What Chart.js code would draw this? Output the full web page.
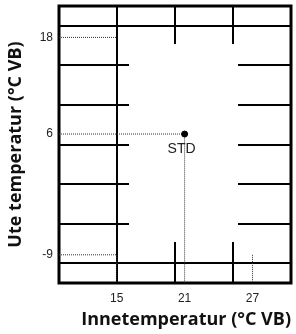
<!DOCTYPE html>
<html>
<head>
<meta charset="utf-8">
<script src="https://cdn.jsdelivr.net/npm/chart.js@4"></script>
<style>
html, body { margin: 0; padding: 0; background: #fff; }
#wrap { width: 296px; height: 334px; }
</style>
</head>
<body>
<div id="wrap"><canvas id="myChart"></canvas></div>
<script>
let xTicks = [15, 21, 27];
let yTicks = [18, 6, -9];
let xMin = 9.9, xMax = 30.4;
let yMin = -12.5, yMax = 21.9;

let pointLabels = ['STD'];
let pointX = [21];
let pointY = [6];

// dotted guide lines as [x, y] pairs
let guide18 = [[xMin, 18], [15, 18]];
let guide6 = [[xMin, 6], [21, 6], [21, yMin]];
let guideM9 = [[xMin, -9], [15, -9], [15, yMin]];
let guide27 = [[27, -9], [27, yMin]];

function toXY(arr) {
    return arr.map(p => ({x: p[0], y: p[1]}));
}

function guide(arr) {
    return {
        data: toXY(arr),
        showLine: true,
        borderColor: '#333',
        borderWidth: 1,
        borderDash: [1, 1],
        pointRadius: 0
    };
}

// the background frame of the diagram, in fractions of the plot area
let framePlugin = {
    id: 'frame',
    beforeDatasetsDraw(chart) {
        const {ctx, chartArea: a} = chart;
        const w = a.right - a.left, h = a.bottom - a.top;
        const X = f => Math.round(a.left + f * w);
        const Y = f => Math.round(a.top + f * h);
        ctx.save();
        ctx.strokeStyle = '#000';
        ctx.lineWidth = 2;
        ctx.beginPath();
        for (let k = 0; k < 7; k++) {
            const y = Y((k + 0.5) / 7);
            if (k === 0 || k === 6) {
                ctx.moveTo(a.left, y); ctx.lineTo(a.right, y);
            } else {
                ctx.moveTo(a.left, y); ctx.lineTo(X(0.3), y);
                ctx.moveTo(X(0.77), y); ctx.lineTo(a.right, y);
            }
        }
        ctx.moveTo(X(0.25), a.top); ctx.lineTo(X(0.25), a.bottom);
        [0.5, 0.75].forEach(f => {
            ctx.moveTo(X(f), a.top); ctx.lineTo(X(f), Y(0.138));
            ctx.moveTo(X(f), Y(0.852)); ctx.lineTo(X(f), a.bottom);
        });
        ctx.stroke();
        ctx.lineWidth = 3;
        ctx.strokeRect(a.left, a.top, w, h);
        ctx.restore();
    }
};

let labelPlugin = {
    id: 'pointLabels',
    afterDatasetsDraw(chart) {
        const ctx = chart.ctx;
        const meta = chart.getDatasetMeta(0);
        ctx.save();
        ctx.fillStyle = '#222';
        ctx.font = '14px "Liberation Sans", Arial, sans-serif';
        ctx.textAlign = 'center';
        ctx.textBaseline = 'middle';
        meta.data.forEach((el, i) => {
            ctx.fillText(pointLabels[i], el.x - 3, el.y + 15);
        });
        ctx.restore();
    }
};

let tickFont = {family: '"Liberation Sans", Arial, sans-serif', size: 12};
let titleFont = {family: '"Open Sans", sans-serif', size: 18, weight: 'bold'};

let myChart = document.getElementById('myChart').getContext('2d');

let chart = new Chart(myChart, {
    type: 'scatter',
    data: {
        datasets: [
            {
                data: pointX.map((x, i) => ({x: x, y: pointY[i]})),
                pointRadius: 3,
                backgroundColor: '#000',
                borderColor: '#000'
            },
            guide(guide18),
            guide(guide6),
            guide(guideM9),
            guide(guide27)
        ]
    },
    options: {
        responsive: true,
        maintainAspectRatio: false,
        animation: false,
        layout: {padding: {top: 6, right: 2, left: 0, bottom: 0}},
        plugins: {
            legend: {display: false},
            tooltip: {enabled: false}
        },
        scales: {
            x: {
                type: 'linear',
                min: xMin,
                max: xMax,
                grid: {display: false, drawTicks: false},
                border: {display: false},
                afterBuildTicks: s => { s.ticks = xTicks.map(v => ({value: v})); },
                afterFit: s => { s.height = 51; s.paddingLeft = 0; s.paddingRight = 0; },
                ticks: {padding: 8, color: '#222', font: tickFont},
                title: {
                    display: true,
                    text: 'Innetemperatur (°C VB)',
                    align: 'end',
                    color: '#111',
                    font: titleFont,
                    padding: {top: 0, bottom: 3}
                }
            },
            y: {
                type: 'linear',
                min: yMin,
                max: yMax,
                grid: {display: false, drawTicks: false},
                border: {display: false},
                afterBuildTicks: s => { s.ticks = yTicks.map(v => ({value: v})); },
                afterFit: s => { s.width = 59; s.paddingTop = 0; s.paddingBottom = 0; },
                ticks: {padding: 6, color: '#222', font: tickFont},
                title: {
                    display: true,
                    text: 'Ute temperatur (°C VB)',
                    color: '#111',
                    font: titleFont,
                    padding: {top: 5, bottom: 0}
                }
            }
        }
    },
    plugins: [framePlugin, labelPlugin]
});
</script>
</body>
</html>
